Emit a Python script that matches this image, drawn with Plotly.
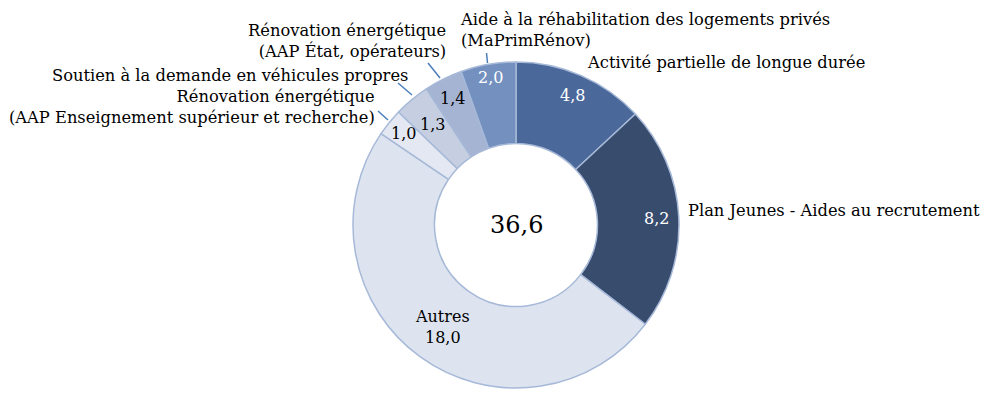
import math
import plotly.graph_objects as go

# ---- data ----
categories = [
    "Activité partielle de longue durée",
    "Plan Jeunes - Aides au recrutement",
    "Autres",
    "Rénovation énergétique (AAP Enseignement supérieur et recherche)",
    "Soutien à la demande en véhicules propres",
    "Rénovation énergétique (AAP État, opérateurs)",
    "Aide à la réhabilitation des logements privés (MaPrimRénov)",
]
values = [4.8, 8.2, 18.0, 1.0, 1.3, 1.4, 2.0]
value_labels = ["4,8", "8,2", "Autres<br>18,0", "1,0", "1,3", "1,4", "2,0"]
total_label = "36,6"

colors = ["#4a6899", "#384c6e", "#dde4ef", "#e3e8f2", "#c6cfe2", "#a5b4d2", "#7390bf"]
value_font_colors = ["white", "white", "black", "black", "black", "black", "white"]
label_radius_frac = [0.865, 0.86, 0.77, 0.89, 0.80, 0.87, 0.92]

W, H = 991, 401
CX, CY, R = 516, 225, 163
FONT = "'DejaVu Serif', serif"

fig = go.Figure(go.Pie(
    labels=categories,
    values=values,
    sort=False,
    direction="clockwise",
    rotation=0,
    hole=0.5,
    textinfo="none",
    hoverinfo="label+value",
    marker=dict(colors=colors, line=dict(color="#a7b9d8", width=1.5)),
    domain=dict(x=[(CX - R) / W, (CX + R) / W], y=[(H - CY - R) / H, (H - CY + R) / H]),
    showlegend=False,
))


def px(x, y):
    return x / W, 1 - y / H


annotations = []
x0, y0 = px(CX, CY)
annotations.append(dict(x=x0, y=y0, xref="paper", yref="paper", text=total_label,
                        showarrow=False, xanchor="center", yanchor="middle",
                        font=dict(family=FONT, size=24, color="black")))

tot = sum(values)
cum = 0.0
for v, lab, fc, rf in zip(values, value_labels, value_font_colors, label_radius_frac):
    mid = (cum + v / 2) / tot * 2 * math.pi
    cum += v
    r = R * rf
    xx = CX + r * math.sin(mid)
    yy = CY - r * math.cos(mid)
    ax, ay = px(xx, yy)
    annotations.append(dict(x=ax, y=ay, xref="paper", yref="paper", text=lab,
                            showarrow=False, align="center", xanchor="center", yanchor="middle",
                            font=dict(family=FONT, size=16, color=fc)))

outside = [
    (585, 63, "left", "Activité partielle de longue durée"),
    (686, 210, "left", "Plan Jeunes - Aides au recrutement"),
    (458, 30, "left", "Aide à la réhabilitation des logements privés<br>(MaPrimRénov)"),
    (448, 41, "right", "Rénovation énergétique<br>(AAP État, opérateurs)"),
    (410, 75, "right", "Soutien à la demande en véhicules propres"),
    (377, 107, "right", "Rénovation énergétique<br>(AAP Enseignement supérieur et recherche)"),
]
for x, y, anc, t in outside:
    ax, ay = px(x, y)
    annotations.append(dict(x=ax, y=ay, xref="paper", yref="paper", text=t,
                            showarrow=False, xanchor=anc, yanchor="middle", align=anc,
                            font=dict(family=FONT, size=16.3, color="black")))

leaders = [(486.5, 53, 487.5, 63), (428, 63, 440, 78), (398, 83, 412, 95), (378, 111, 388, 120)]
shapes = []
for xa, ya, xb, yb in leaders:
    p1 = px(xa, ya)
    p2 = px(xb, yb)
    shapes.append(dict(type="line", xref="paper", yref="paper", x0=p1[0], y0=p1[1], x1=p2[0], y1=p2[1],
                       line=dict(color="#4a7ebb", width=1.5)))

fig.update_layout(
    width=W, height=H,
    margin=dict(l=0, r=0, t=0, b=0),
    paper_bgcolor="white", plot_bgcolor="white",
    annotations=annotations, shapes=shapes,
    font=dict(family=FONT),
)

fig.write_html("out.html", config={"displayModeBar": False},
               post_script="document.body.style.margin='0px';")
